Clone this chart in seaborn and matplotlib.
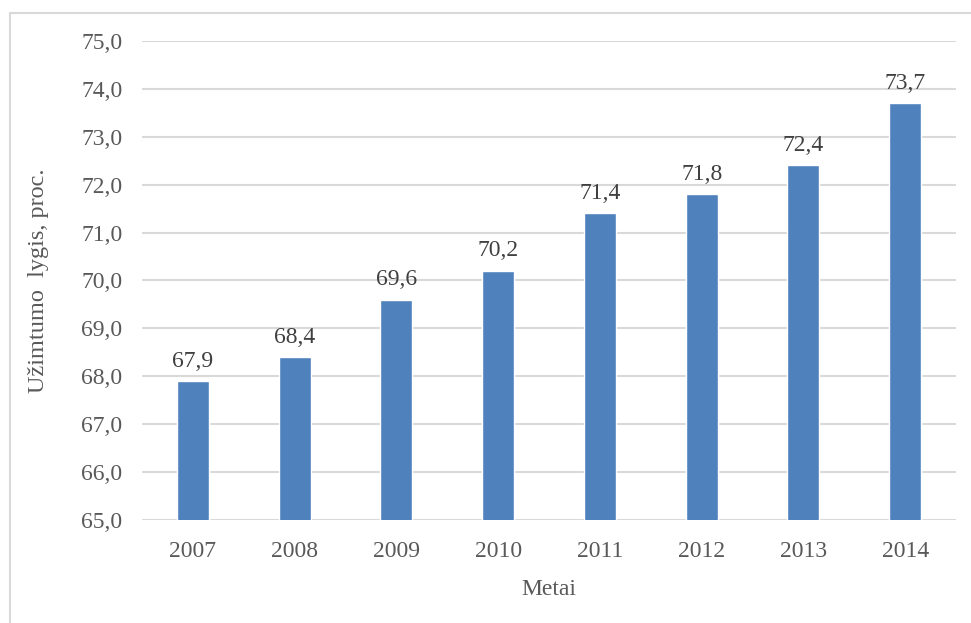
import matplotlib
matplotlib.use("Agg")
import matplotlib.pyplot as plt
import seaborn as sns
import pandas as pd
from matplotlib.lines import Line2D

years = ["2007", "2008", "2009", "2010", "2011", "2012", "2013", "2014"]
rates = [67.9, 68.4, 69.6, 70.2, 71.4, 71.8, 72.4, 73.7]
yticks = [65, 66, 67, 68, 69, 70, 71, 72, 73, 74, 75]

df = pd.DataFrame({"Metai": years, "rate": rates})

sns.set_style("white")
plt.rcParams['font.family'] = ['Liberation Serif', 'DejaVu Serif']

fig = plt.figure(figsize=(9.71, 6.23), dpi=100)
ax = fig.add_axes([0.1463, 0.1653, 0.8383, 0.769])

sns.barplot(data=df, x="Metai", y="rate", color="#4F81BD", width=0.315,
            saturation=1, ax=ax, zorder=3)
ax.set_ylim(65, 75)
ax.set_yticks(yticks)
ax.set_yticklabels([f"{v:.1f}".replace(".", ",") for v in yticks])
ax.grid(axis="y", color="#D9D9D9", linewidth=1.5, zorder=0)
ax.set_axisbelow(True)
for s in ax.spines.values():
    s.set_visible(False)
ax.tick_params(axis="both", length=0, labelsize=17, colors="#595959")
ax.tick_params(axis="y", pad=14)
ax.tick_params(axis="x", pad=15)

for i, v in enumerate(rates):
    ax.text(i, v + 0.2, f"{v:.1f}".replace(".", ","), ha="center", va="bottom",
            fontsize=17, color="#404040")

ax.set_xlabel("Metai", fontsize=17, color="#595959", labelpad=12)
ax.set_ylabel("Užimtumo  lygis, proc.", fontsize=17.5, color="#595959", labelpad=23)

# chart frame (top and left)
fig.add_artist(Line2D([0.0103, 1.0], [0.979, 0.979], color="#D9D9D9", linewidth=1.5,
                      transform=fig.transFigure))
fig.add_artist(Line2D([0.0103, 0.0103], [0.0, 0.979], color="#D9D9D9", linewidth=1.5,
                      transform=fig.transFigure))

fig.savefig("out.png", dpi=100)
